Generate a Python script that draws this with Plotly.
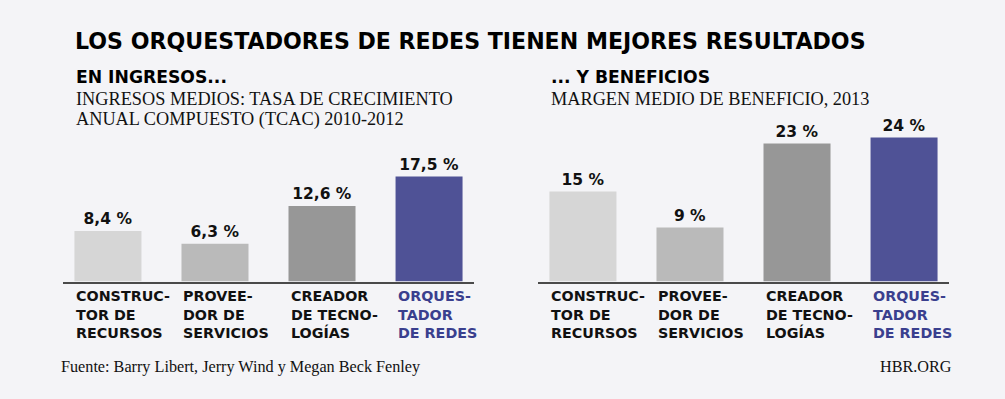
import plotly.graph_objects as go

# ---- data ----
categories = ["CONSTRUC-<br>TOR DE<br>RECURSOS", "PROVEE-<br>DOR DE<br>SERVICIOS",
              "CREADOR<br>DE TECNO-<br>LOGÍAS", "ORQUES-<br>TADOR<br>DE REDES"]
ingresos_tcac = [8.4, 6.3, 12.6, 17.5]
margen_beneficio = [15, 9, 23, 24]
bar_colors = ["#d6d6d6", "#bababa", "#979797", "#4f5296"]
label_colors = ["#111111", "#111111", "#111111", "#3a3f8e"]

title = "LOS ORQUESTADORES DE REDES TIENEN MEJORES RESULTADOS"
left_head = "EN INGRESOS..."
left_sub = ["INGRESOS MEDIOS: TASA DE CRECIMIENTO", "ANUAL COMPUESTO (TCAC) 2010-2012"]
right_head = "... Y BENEFICIOS"
right_sub = ["MARGEN MEDIO DE BENEFICIO, 2013"]
source = "Fuente: Barry Libert, Jerry Wind y Megan Beck Fenley"
brand = "HBR.ORG"

W, H = 1005, 399
BG = "#f4f4f7"
SANS = "DejaVu Sans"
SERIF = "Liberation Serif"


def px(x):
    return x / W


def py(y):
    return (H - y) / H


def fmt_dec(v):
    return f"{v:.1f}".replace(".", ",") + " %"


def fmt_int(v):
    return f"{v:.0f} %"


xpos = list(range(len(categories)))
fig = go.Figure()
fig.add_trace(go.Bar(x=xpos, y=ingresos_tcac, marker=dict(color=bar_colors, line=dict(width=0)),
                     width=0.626, text=[fmt_dec(v) for v in ingresos_tcac], textposition="outside",
                     textfont=dict(family=SANS, size=15.5, color="#111111", weight="bold"),
                     cliponaxis=False, xaxis="x", yaxis="y", hoverinfo="skip"))
fig.add_trace(go.Bar(x=xpos, y=margen_beneficio, marker=dict(color=bar_colors, line=dict(width=0)),
                     width=0.626, text=[fmt_int(v) for v in margen_beneficio], textposition="outside",
                     textfont=dict(family=SANS, size=15.5, color="#111111", weight="bold"),
                     cliponaxis=False, xaxis="x2", yaxis="y2", hoverinfo="skip"))

base_y = 281.5
top_y = 130
yr = [0, (base_y - top_y) / 6.0]
xr = [-0.42, 3.42]
axis_common = dict(showgrid=False, zeroline=False, showticklabels=False, ticks="",
                   showline=True, linecolor="#4a4a4a", linewidth=1.5, range=xr, fixedrange=True)
yaxis_common = dict(visible=False, range=yr, domain=[py(base_y), py(top_y)], fixedrange=True)

fig.update_layout(
    width=W, height=H, margin=dict(l=0, r=0, t=0, b=0),
    paper_bgcolor=BG, plot_bgcolor=BG, showlegend=False,
    xaxis=dict(domain=[px(63), px(474)], anchor="y", **axis_common),
    xaxis2=dict(domain=[px(538), px(949)], anchor="y2", **axis_common),
    yaxis=dict(anchor="x", **yaxis_common),
    yaxis2=dict(anchor="x2", **yaxis_common),
)

ann = []
ann.append(dict(text=title, x=px(73), y=py(41), xanchor="left", yanchor="middle",
                font=dict(family=SANS, size=22.1, color="#000000", weight="bold")))
ann.append(dict(text=left_head, x=px(74), y=py(77), xanchor="left", yanchor="middle",
                font=dict(family=SANS, size=17.2, color="#000000", weight="bold")))
for k, line in enumerate(left_sub):
    ann.append(dict(text=line, x=px(74), y=py(99 + 20 * k), xanchor="left", yanchor="middle",
                    font=dict(family=SERIF, size=18.3, color="#111111")))
ann.append(dict(text=right_head, x=px(549), y=py(77), xanchor="left", yanchor="middle",
                font=dict(family=SANS, size=17.2, color="#000000", weight="bold")))
for k, line in enumerate(right_sub):
    ann.append(dict(text=line, x=px(549), y=py(99 + 20 * k), xanchor="left", yanchor="middle",
                    font=dict(family=SERIF, size=18.3, color="#111111")))
ann.append(dict(text=source, x=px(59), y=py(367), xanchor="left", yanchor="middle",
                font=dict(family=SERIF, size=16.2, color="#111111")))
ann.append(dict(text=brand, x=px(954), y=py(367), xanchor="right", yanchor="middle",
                font=dict(family=SERIF, size=16.2, color="#111111")))

for xa, ya in (("x", "y"), ("x2", "y2")):
    for i, cat in enumerate(categories):
        ann.append(dict(text=cat, x=i - 0.313, xref=xa, y=py(286), yref="paper",
                        xanchor="left", yanchor="top", align="left",
                        font=dict(family=SANS, size=14.3, color=label_colors[i], weight="bold")))

for a in ann:
    a.setdefault("xref", "paper")
    a.setdefault("yref", "paper")
    a["showarrow"] = False
fig.update_layout(annotations=ann)

fig.write_html("out.html", config={"displayModeBar": False},
               post_script="document.body.style.margin='0';document.body.style.padding='0';"
                           "document.body.style.background='#f4f4f7';")
